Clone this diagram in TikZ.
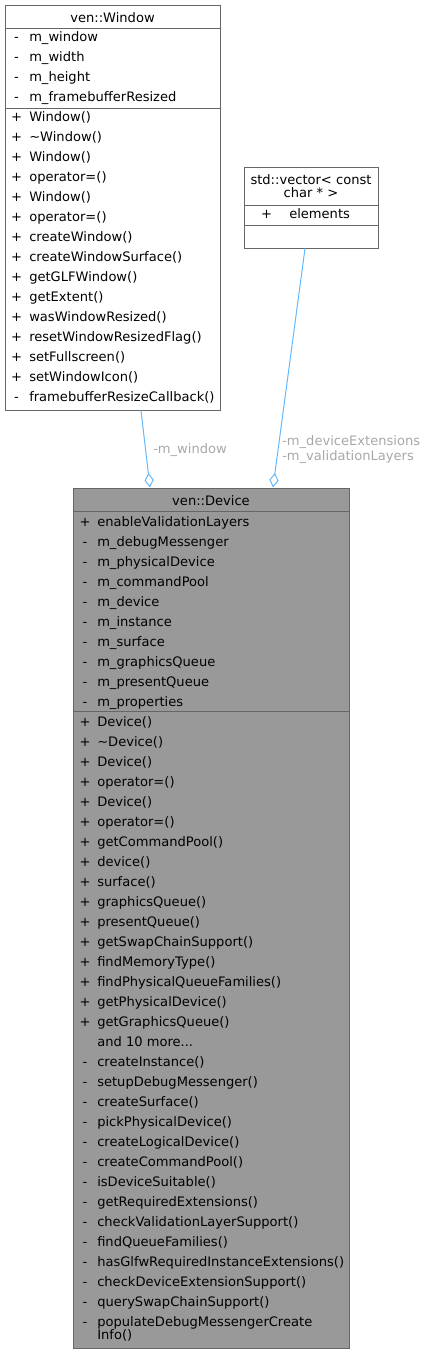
\documentclass[tikz,border=0pt]{standalone}
\usepackage{fontspec}
\setmainfont{DejaVu Sans}
\usetikzlibrary{arrows.meta, fit}
\definecolor{edgeblue}{HTML}{63B8FF}
\definecolor{labelgray}{HTML}{A8A8A8}
\definecolor{boxgray}{HTML}{999999}
\definecolor{linegray}{HTML}{666666}
\newcommand{\moremembers}{and 10 more...}

\begin{document}
\begin{tikzpicture}[x=0.75pt, y=-0.75pt,
  txt/.style={inner sep=0pt, font=\fontsize{9.8}{12}\selectfont},
  member/.style={txt, anchor=base west},
  vis/.style={txt, anchor=base},
  classbox/.style={draw=linegray, line width=0.75pt, inner sep=0pt},
  sep/.style={draw=linegray, line width=0.75pt},
  aggr/.style={draw=edgeblue, line width=0.75pt, -{Diamond[open, length=11pt, width=7pt]}},
  rolelabel/.style={txt, anchor=base west, text=labelgray}]
  \useasboundingbox (0,0) rectangle (427,1353);

  % ven::Window
  \node[classbox, fill=white, fit={(5,5) (220,410)}] (window) {};
  \draw[sep] (5,28) -- (220,28) (5,108) -- (220,108);
  \node[txt, anchor=base] (wtitle) at (112.5,22) {ven::Window};
  \foreach \n [count=\i from 0] in {m\_window, m\_width, m\_height, m\_framebufferResized} {
    \node[vis] (wav\i) at (16.5,{41+20*\i}) {-};
    \node[member] (wa\i) at (29,{41+20*\i}) {\n};
  }
  \foreach \s/\n [count=\i from 0] in {+/Window(), +/\textasciitilde Window(), +/Window(),
      +/operator=(), +/Window(), +/operator=(), +/createWindow(), +/createWindowSurface(),
      +/getGLFWindow(), +/getExtent(), +/wasWindowResized(), +/resetWindowResizedFlag(),
      +/setFullscreen(), +/setWindowIcon(), -/framebufferResizeCallback()} {
    \node[vis] (wmv\i) at (16.5,{121+20*\i}) {\s};
    \node[member] (wm\i) at (29,{121+20*\i}) {\n};
  }

  % std::vector< const char * >
  \node[classbox, fill=white, fit={(244,167) (378,248)}] (vector) {};
  \draw[sep] (244,205) -- (378,205) (244,225) -- (378,225);
  \node[txt, anchor=base] (vtitle1) at (311,184) {std::vector< const};
  \node[txt, anchor=base] (vtitle2) at (311,197) {char * >};
  \node[vis] (vav0) at (266.5,218) {+};
  \node[member] (va0) at (289,218) {elements};

  % ven::Device
  \node[classbox, fill=boxgray, fit={(73,488) (349,1348)}] (device) {};
  \draw[sep] (73,511) -- (349,511) (73,711) -- (349,711);
  \node[txt, anchor=base] (dtitle) at (211,505) {ven::Device};
  \foreach \s/\n [count=\i from 0] in {+/enableValidationLayers, -/m\_debugMessenger,
      -/m\_physicalDevice, -/m\_commandPool, -/m\_device, -/m\_instance, -/m\_surface,
      -/m\_graphicsQueue, -/m\_presentQueue, -/m\_properties} {
    \node[vis] (dav\i) at (85,{526+20*\i}) {\s};
    \node[member] (da\i) at (97,{526+20*\i}) {\n};
  }
  \foreach \s/\n [count=\i from 0] in {+/Device(), +/\textasciitilde Device(), +/Device(),
      +/operator=(), +/Device(), +/operator=(), +/getCommandPool(), +/device(), +/surface(),
      +/graphicsQueue(), +/presentQueue(), +/getSwapChainSupport(), +/findMemoryType(),
      +/findPhysicalQueueFamilies(), +/getPhysicalDevice(), +/getGraphicsQueue(),
      {}/\moremembers, -/createInstance(), -/setupDebugMessenger(), -/createSurface(),
      -/pickPhysicalDevice(), -/createLogicalDevice(), -/createCommandPool(),
      -/isDeviceSuitable(), -/getRequiredExtensions(), -/checkValidationLayerSupport(),
      -/findQueueFamilies(), -/hasGlfwRequiredInstanceExtensions(),
      -/checkDeviceExtensionSupport(), -/querySwapChainSupport(),
      -/populateDebugMessengerCreate} {
    \node[vis] (dmv\i) at (85,{726+20*\i}) {\s};
    \node[member] (dm\i) at (97,{726+20*\i}) {\n};
  }
  \node[member] (dmwrap) at (97,1339) {Info()};

  % aggregations
  \draw[aggr] (window.south -| 141,0) -- (device.north -| 150,0);
  \draw[aggr] (vector.south -| 305,0) -- (device.north -| 273,0);
  \node[rolelabel] (wrole) at (153,453) {-m\_window};
  \node[rolelabel] (vrole1) at (282,445) {-m\_deviceExtensions};
  \node[rolelabel] (vrole2) at (282,460) {-m\_validationLayers};
\end{tikzpicture}
\end{document}
